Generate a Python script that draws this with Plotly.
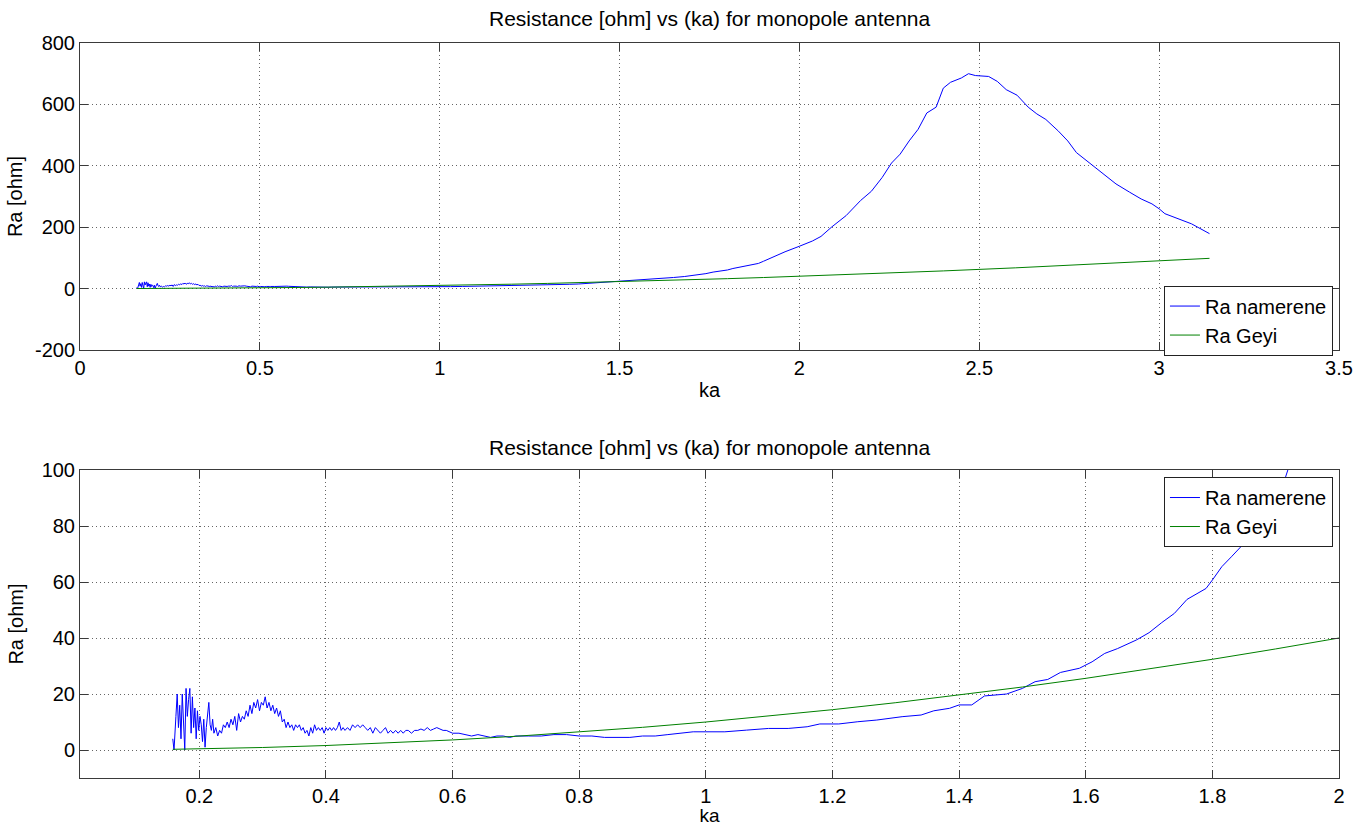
import plotly.graph_objects as go

# ---------------- data ----------------
ka_meas = [
    0.158, 0.160, 0.163, 0.165, 0.167, 0.169, 0.171, 0.173, 0.175, 0.177,
    0.179, 0.181, 0.183, 0.185, 0.187, 0.189, 0.191, 0.193, 0.195, 0.197,
    0.199, 0.201, 0.203, 0.205, 0.207, 0.209, 0.211, 0.213, 0.215, 0.217,
    0.219, 0.221, 0.223, 0.226, 0.229, 0.232, 0.235, 0.238, 0.241, 0.244,
    0.247, 0.250, 0.253, 0.256, 0.259, 0.262, 0.265, 0.268, 0.271, 0.274,
    0.277, 0.280, 0.283, 0.286, 0.289, 0.292, 0.295, 0.298, 0.301, 0.304,
    0.307, 0.310, 0.313, 0.316, 0.319, 0.322, 0.325, 0.328, 0.331, 0.334,
    0.337, 0.340, 0.343, 0.346, 0.349, 0.352, 0.355, 0.358, 0.361, 0.364,
    0.367, 0.370, 0.373, 0.376, 0.379, 0.382, 0.385, 0.388, 0.391, 0.394,
    0.397, 0.400, 0.403, 0.406, 0.409, 0.412, 0.415, 0.418, 0.421, 0.424,
    0.427, 0.430, 0.434, 0.438, 0.442, 0.446, 0.450, 0.454, 0.458, 0.462,
    0.466, 0.470, 0.474, 0.478, 0.482, 0.486, 0.490, 0.494, 0.498, 0.502,
    0.506, 0.510, 0.514, 0.518, 0.522, 0.526, 0.530, 0.535, 0.540, 0.545,
    0.550, 0.555, 0.560, 0.565, 0.570, 0.575, 0.580, 0.585, 0.590, 0.595,
    0.600, 0.610, 0.620, 0.630, 0.640, 0.650, 0.660, 0.670, 0.680, 0.690,
    0.700, 0.720, 0.740, 0.760, 0.780, 0.800, 0.820, 0.840, 0.860, 0.880,
    0.900, 0.920, 0.940, 0.960, 0.980, 1.000, 1.030, 1.064, 1.099, 1.130,
    1.160, 1.180, 1.210, 1.240, 1.270, 1.310, 1.340, 1.360, 1.385, 1.400,
    1.420, 1.440, 1.475, 1.500, 1.520, 1.540, 1.560, 1.590, 1.610, 1.630,
    1.650, 1.680, 1.700, 1.720, 1.740, 1.760, 1.790, 1.800, 1.815, 1.830,
    1.850, 1.865, 1.886, 1.900, 1.914, 1.925, 1.960, 2.000, 2.036, 2.060,
    2.090, 2.130, 2.170, 2.200, 2.230, 2.256, 2.280, 2.305, 2.330, 2.354,
    2.380, 2.400, 2.420, 2.450, 2.470, 2.489, 2.526, 2.550, 2.575, 2.605,
    2.636, 2.660, 2.685, 2.720, 2.746, 2.770, 2.810, 2.840, 2.880, 2.918,
    2.950, 2.980, 3.000, 3.016, 3.053, 3.090, 3.140,
]
ra_meas = [
    4, 0, 12, 20, 8, 16, 4, 20, 10, 0,
    22, 12, 18, 22, 6, 19, 8, 15, 4, 14,
    7, 12, 9, 3, 11, 1, 8, 13, 17, 9,
    7, 11, 6, 8, 5, 7, 6, 9, 8, 10,
    8, 11, 9, 12, 7, 13, 10, 12, 11, 14,
    12, 16, 13, 17, 15, 18, 14, 17, 16, 19,
    15, 17, 14, 16, 13, 15, 12, 14, 10, 11,
    8, 10, 8, 9, 7, 9, 8, 9, 7, 8,
    6, 7, 5, 8, 6, 9, 7, 8, 7, 8,
    6, 8, 7, 8, 7, 8, 7, 8, 10, 7,
    8, 7, 8, 7, 9, 8, 9, 8, 9, 8,
    7, 8, 6, 8, 7, 6, 7, 8, 6, 7,
    6, 7, 6, 7, 6, 7, 7, 6, 7, 7,
    7.5, 7, 8, 7, 7.5, 8, 7.5, 7, 7, 6.5,
    6, 6, 5.5, 5, 5.5, 5, 4.5, 5, 5, 4.5,
    5, 5, 5, 5.5, 5.5, 5, 5, 4.5, 4.5, 4.5,
    5, 5, 5.5, 6, 6.5, 6.5, 6.5, 7.1, 7.7, 7.7,
    8.3, 9.3, 9.3, 10.1, 10.7, 11.9, 12.5, 14.0, 14.9, 16.1,
    16.1, 19.3, 20, 22, 24.4, 25.2, 27.7, 29.2, 31.5, 34.5,
    36.2, 39.3, 41.9, 45.5, 48.8, 53.8, 57.7, 60.7, 65.5, 69,
    73.8, 76.8, 82, 89, 96.4, 104, 120, 138, 155, 170,
    201, 238, 287, 317, 362, 409, 438, 481, 519, 572,
    591, 653, 672, 686, 700, 694, 691, 675, 648, 630,
    591, 569, 551, 513, 481, 443, 405, 378, 341, 314,
    292, 276, 260, 244, 227, 211, 179,
]

ka_geyi = [0.158, 0.2, 0.3, 0.4, 0.5, 0.6, 0.7, 0.8, 0.9, 1.0, 1.1, 1.2, 1.3,
           1.4, 1.5, 1.6, 1.7, 1.8, 1.9, 2.0, 2.2, 2.4, 2.6, 2.8, 3.0, 3.14]
ra_geyi = [0.25, 0.4, 0.9, 1.6, 2.5, 3.6, 4.9, 6.4, 8.1, 10.0, 12.1, 14.4, 16.9,
           19.6, 22.5, 25.6, 28.9, 32.4, 36.1, 40.0, 48.4, 57.6, 67.6, 78.4, 90.0, 98.6]

title_text = "Resistance [ohm] vs (ka) for monopole antenna"
name_meas = "Ra namerene"
name_geyi = "Ra Geyi"

top_xticks = [0, 0.5, 1, 1.5, 2, 2.5, 3, 3.5]
top_xlabels = ["0", "0.5", "1", "1.5", "2", "2.5", "3", "3.5"]
top_yticks = [-200, 0, 200, 400, 600, 800]
top_ylabels = ["-200", "0", "200", "400", "600", "800"]
bot_xticks = [0.2, 0.4, 0.6, 0.8, 1.0, 1.2, 1.4, 1.6, 1.8, 2.0]
bot_xlabels = ["0.2", "0.4", "0.6", "0.8", "1", "1.2", "1.4", "1.6", "1.8", "2"]
bot_yticks = [0, 20, 40, 60, 80, 100]

# ---------------- figure ----------------
BLUE = "#0000ff"
GREEN = "#008000"
FONT = "Liberation Sans, Arial, sans-serif"

fig = go.Figure()
fig.add_trace(go.Scatter(x=ka_meas, y=ra_meas, mode="lines", name=name_meas,
                         line=dict(color=BLUE, width=1), xaxis="x", yaxis="y",
                         legend="legend"))
fig.add_trace(go.Scatter(x=ka_geyi, y=ra_geyi, mode="lines", name=name_geyi,
                         line=dict(color=GREEN, width=1), xaxis="x", yaxis="y",
                         legend="legend"))
fig.add_trace(go.Scatter(x=ka_meas, y=ra_meas, mode="lines", name=name_meas,
                         line=dict(color=BLUE, width=1), xaxis="x2", yaxis="y2",
                         legend="legend2"))
fig.add_trace(go.Scatter(x=ka_geyi, y=ra_geyi, mode="lines", name=name_geyi,
                         line=dict(color=GREEN, width=1), xaxis="x2", yaxis="y2",
                         legend="legend2"))

axis_common = dict(
    showline=True, linecolor="#3a3a3a", linewidth=1, mirror="ticks",
    ticks="inside", ticklen=8, tickcolor="#3a3a3a", tickwidth=1,
    showgrid=True, gridcolor="#666666", gridwidth=1, griddash="1px,3px",
    zeroline=False, automargin=False,
    tickfont=dict(family=FONT, size=20, color="#000"),
    title_font=dict(family=FONT, size=20, color="#000"),
)

top_dom = [0.5823, 1.0]
bot_dom = [0.0, 0.4190]

legend_common = dict(
    bgcolor="white", bordercolor="#222", borderwidth=1,
    font=dict(family=FONT, size=20, color="#000"),
    tracegroupgap=0, itemwidth=30,
)

fig.update_layout(
    width=1372, height=826,
    margin=dict(l=80, r=33, t=43, b=48),
    paper_bgcolor="white", plot_bgcolor="white",
    font=dict(family=FONT, color="#000"),
    xaxis=dict(axis_common, domain=[0, 1], range=[0, 3.5], tickvals=top_xticks,
               ticktext=top_xlabels, anchor="y",
               title=dict(text="ka", standoff=4)),
    yaxis=dict(axis_common, domain=top_dom, range=[-200, 800], tickvals=top_yticks,
               ticktext=top_ylabels, anchor="x",
               title=dict(text="Ra [ohm]", standoff=6)),
    xaxis2=dict(axis_common, domain=[0, 1], range=[0.0115, 2], tickvals=bot_xticks,
                ticktext=bot_xlabels, anchor="y2",
                title=dict(text="ka", standoff=3,
                           font=dict(family=FONT, size=19, color="#000"))),
    yaxis2=dict(axis_common, domain=bot_dom, range=[-10, 100], tickvals=bot_yticks,
                anchor="x2", title=dict(text="Ra [ohm]", standoff=12)),
    legend=dict(legend_common, x=0.9952, xanchor="right", y=0.670, yanchor="top"),
    legend2=dict(legend_common, x=0.9952, xanchor="right", y=0.4095, yanchor="top"),
    annotations=[
        dict(text=title_text, x=0.5, y=1.034, xref="paper", yref="paper",
             xanchor="center", yanchor="middle", showarrow=False,
             font=dict(family=FONT, size=21, color="#000")),
        dict(text=title_text, x=0.5, y=0.449, xref="paper", yref="paper",
             xanchor="center", yanchor="middle", showarrow=False,
             font=dict(family=FONT, size=21, color="#000")),
    ],
    showlegend=True,
)

fig.write_html("out.html")
